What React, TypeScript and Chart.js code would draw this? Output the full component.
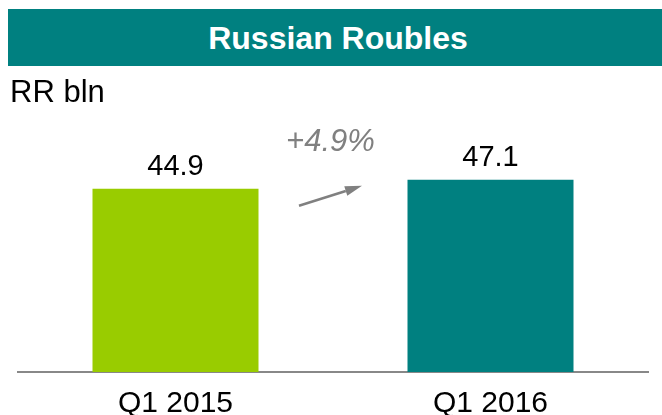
import React, { useEffect, useRef } from "react";
import { Chart, registerables } from "chart.js";

Chart.register(...registerables);

const titleText = "Russian Roubles";
const unitText = "RR bln";
const categories = ["Q1 2015", "Q1 2016"];
const values = [44.9, 47.1];
const valueLabels = ["44.9", "47.1"];
const barColors = ["#99CC00", "#008080"];
const growthLabel = "+4.9%";
// annotation placement: fraction between the two categories, value on the y scale
const growthLabelPos = [0.492, 54.2];
const arrowStart = [0.392, 40.7];
const arrowEnd = [0.592, 45.6];

const FONT = "'Liberation Sans', Arial, Helvetica, sans-serif";

const annotationPlugin = {
  id: "annotations",
  afterDatasetsDraw(chart: any) {
    const { ctx, scales } = chart;
    const xs = scales.x;
    const ys = scales.y;
    const meta = chart.getDatasetMeta(0);
    ctx.save();
    // value labels
    ctx.fillStyle = "#000";
    ctx.font = `29px ${FONT}`;
    ctx.textAlign = "center";
    ctx.textBaseline = "alphabetic";
    meta.data.forEach((bar: any, i: number) => {
      ctx.fillText(valueLabels[i], bar.x, bar.y - 14);
    });
    // growth annotation
    const x0 = xs.getPixelForValue(0);
    const x1 = xs.getPixelForValue(1);
    const fx = (t: number) => x0 + t * (x1 - x0);
    ctx.fillStyle = "#808080";
    ctx.font = `italic 31px ${FONT}`;
    ctx.fillText(growthLabel, fx(growthLabelPos[0]), ys.getPixelForValue(growthLabelPos[1]));
    // arrow
    const ax0 = fx(arrowStart[0]);
    const ay0 = ys.getPixelForValue(arrowStart[1]);
    const ax1 = fx(arrowEnd[0]);
    const ay1 = ys.getPixelForValue(arrowEnd[1]);
    const ang = Math.atan2(ay1 - ay0, ax1 - ax0);
    const headLen = 17;
    const headW = 5;
    const bx = ax1 - headLen * Math.cos(ang);
    const by = ay1 - headLen * Math.sin(ang);
    ctx.strokeStyle = "#808080";
    ctx.lineWidth = 2.5;
    ctx.beginPath();
    ctx.moveTo(ax0, ay0);
    ctx.lineTo(bx, by);
    ctx.stroke();
    ctx.beginPath();
    ctx.moveTo(ax1, ay1);
    ctx.lineTo(bx + headW * Math.sin(ang), by - headW * Math.cos(ang));
    ctx.lineTo(bx - headW * Math.sin(ang), by + headW * Math.cos(ang));
    ctx.closePath();
    ctx.fill();
    ctx.restore();
  },
};

export default function App() {
  const canvasRef = useRef<HTMLCanvasElement | null>(null);

  useEffect(() => {
    if (!canvasRef.current) return;
    const chart = new Chart(canvasRef.current, {
      type: "bar",
      data: {
        labels: categories,
        datasets: [
          {
            data: values,
            backgroundColor: barColors,
            borderWidth: 0,
            categoryPercentage: 1,
            barPercentage: 0.527,
          },
        ],
      },
      options: {
        animation: false,
        responsive: false,
        maintainAspectRatio: false,
        layout: { padding: { top: 127, left: 18, right: 14, bottom: 0 } },
        plugins: {
          legend: { display: false },
          tooltip: { enabled: false },
          title: { display: false },
        },
        scales: {
          x: {
            grid: { display: false },
            border: { display: true, color: "#888888", width: 2 },
            ticks: {
              color: "#000",
              font: { family: FONT, size: 30 },
              padding: 6,
            },
            afterFit: (scale: any) => {
              scale.height = 43;
            },
          },
          y: {
            display: false,
            min: 0,
            max: 60,
          },
        },
      },
      plugins: [annotationPlugin],
    });
    return () => chart.destroy();
  }, []);

  return (
    <div
      style={{
        position: "fixed",
        left: 0,
        top: 0,
        width: 662,
        height: 415,
        background: "#fff",
        fontFamily: FONT,
      }}
    >
      <canvas
        ref={canvasRef}
        width={662}
        height={415}
        style={{ position: "absolute", left: 0, top: 0, width: 662, height: 415 }}
      />
      <div
        style={{
          position: "absolute",
          left: 8,
          top: 9,
          width: 654,
          height: 57,
          background: "#008080",
          color: "#fff",
          fontWeight: "bold",
          fontSize: 32,
          lineHeight: "57px",
          textAlign: "center",
          boxSizing: "border-box",
          paddingLeft: 6,
          paddingTop: 1,
        }}
      >
        {titleText}
      </div>
      <div
        style={{
          position: "absolute",
          left: 10,
          top: 76,
          fontSize: 31,
          lineHeight: "31px",
          color: "#000",
        }}
      >
        {unitText}
      </div>
    </div>
  );
}
